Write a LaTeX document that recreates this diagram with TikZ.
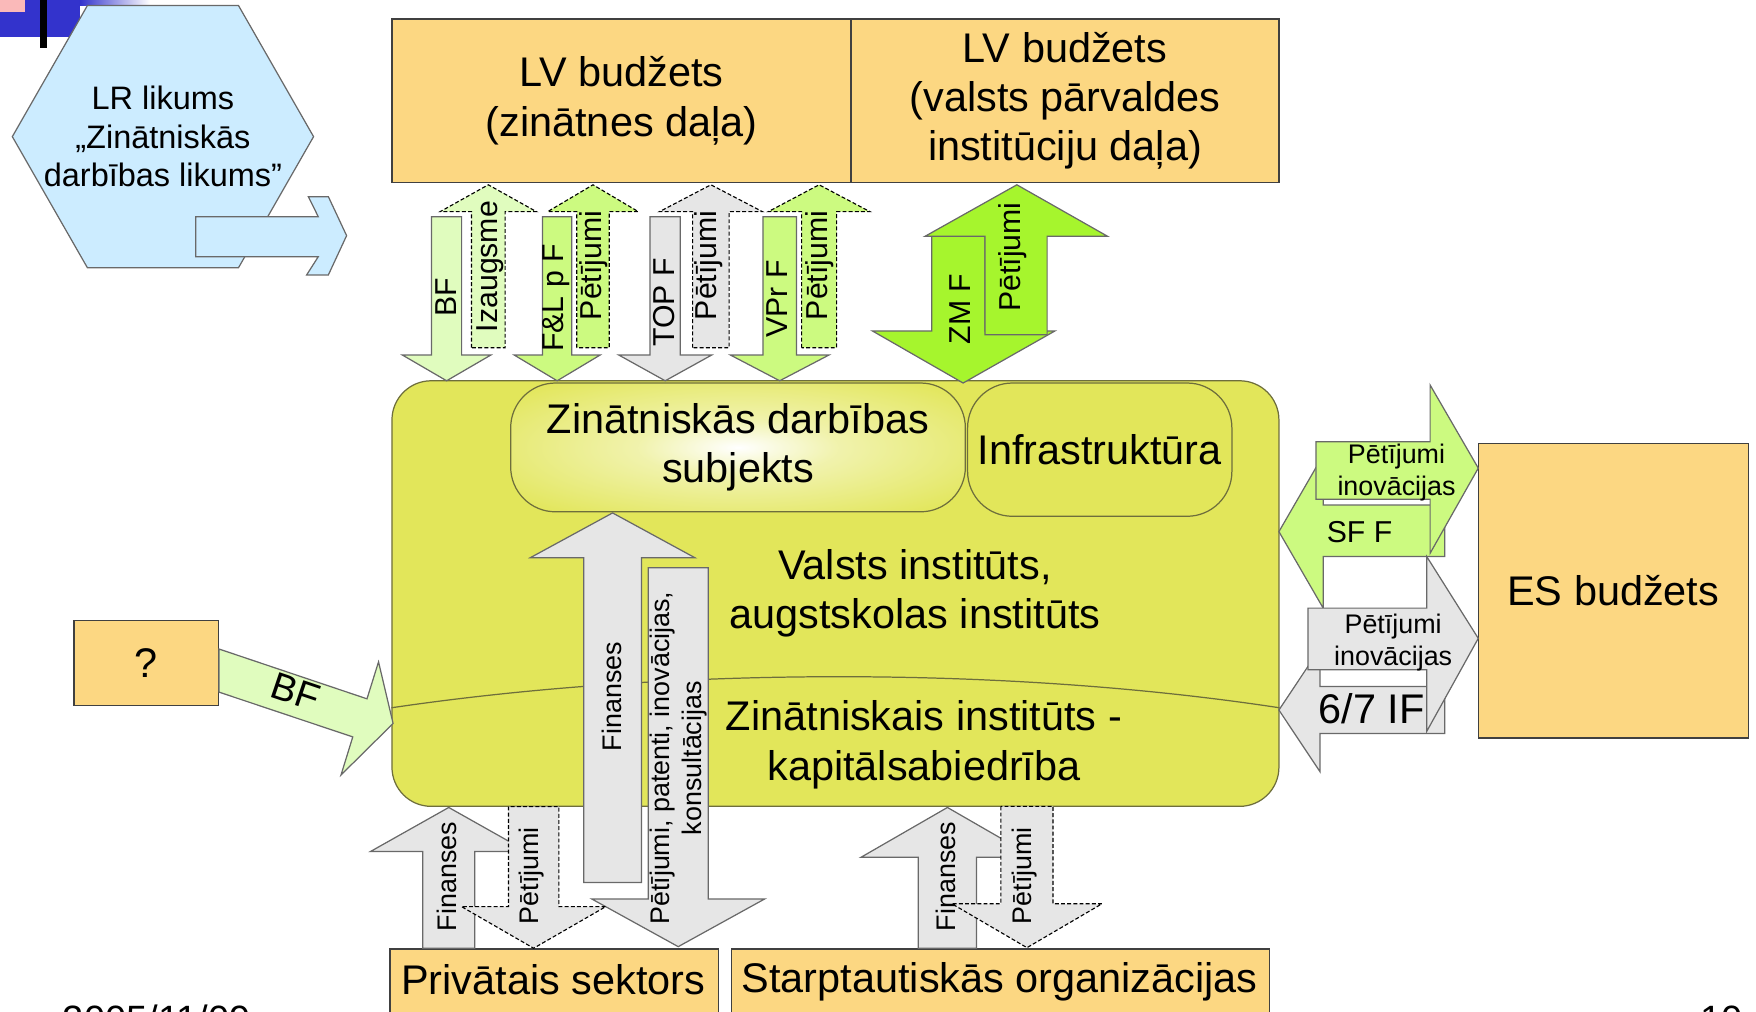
\documentclass[tikz,border=0pt]{standalone}
\usepackage{fontspec}
\setmainfont{Liberation Sans}
\definecolor{boxor}{RGB}{252,215,130}
\definecolor{mainy}{RGB}{226,230,90}
\definecolor{hexb}{RGB}{204,236,255}
\definecolor{lgreen}{RGB}{224,252,190}
\definecolor{mgreen}{RGB}{204,250,128}
\definecolor{bgreen}{RGB}{166,245,45}
\definecolor{lgray}{RGB}{230,230,230}
\definecolor{decoblue}{RGB}{51,51,204}
\definecolor{decopink}{RGB}{250,185,185}
\definecolor{edgegray}{RGB}{105,105,105}
\definecolor{olive}{RGB}{110,110,60}
\colorlet{glowmid}{white!50!mainy}
\pgfdeclareradialshading{glow}{\pgfpointorigin}{color(0bp)=(white); color(11bp)=(glowmid); color(33bp)=(mainy); color(50bp)=(mainy)}
\newcommand{\varr}[7]{\draw[#1] ({#2-#3},#7) -- ({#2-#3},#6) -- ({#2-#4},#6) -- (#2,#5) -- ({#2+#4},#6) -- ({#2+#3},#6) -- ({#2+#3},#7) -- cycle;}
\tikzset{
  bigtxt/.style={font=\fontsize{37}{44}\selectfont, align=center},
  hextxt/.style={font=\fontsize{29}{34.5}\selectfont, align=center},
  lbl/.style={font=\fontsize{27}{32}\selectfont, rotate=90, inner sep=0pt},
  slbl/.style={font=\fontsize{24}{28.5}\selectfont, align=center, inner sep=0pt},
  solidarrow/.style={draw=edgegray, line width=1.1, line join=miter},
  dasharrow/.style={draw=black, line width=1, dash pattern=on 3.5pt off 2pt},
  orbox/.style={draw=black!75, line width=1.2, fill=boxor, inner sep=0pt, bigtxt},
  roundbox/.style={draw=olive, line width=1.1, inner sep=0pt, bigtxt},
}
\begin{document}
\begin{tikzpicture}[x=1pt,y=-1pt]
\useasboundingbox (0,0) rectangle (1568,903);
\clip (0,0) rectangle (1568,903);
% slide decoration
\fill[decoblue] (0,0) rectangle (71,33);
\shade[left color=decoblue, right color=white] (71,0) rectangle (134,4.5);
\fill[decopink] (0,0) rectangle (22,10.4);
\fill[black] (35.7,0) rectangle (42,43);
% law hexagon
\draw[fill=hexb, draw=edgegray, line width=1.1] (78,5) -- (213,5) -- (280,122) -- (213,239) -- (78,239) -- (11,122) -- cycle;
\node[hextxt] (law) at (145.5,122) {LR likums\\„Zinātniskās\\darbības likums”};
\draw[solidarrow, fill=hexb] (174.7,193.5) -- (284.2,193.5) -- (275.3,175.6) -- (293.2,175.6) -- (309.5,210.4) -- (293.2,245.5) -- (273.8,245.5) -- (284.2,229.2) -- (174.7,229.2) -- cycle;
% top budget boxes
\node[orbox, minimum width=410pt, minimum height=146pt] (lvz) at (555,90) {LV budžets\\(zinātnes daļa)};
\node[orbox, minimum width=382pt, minimum height=146pt] (lvv) at (951,90) {LV budžets\\(valsts pārvaldes\\institūciju daļa)};
% main institute box
\node[roundbox, fill=mainy, rounded corners=35pt, minimum width=792pt, minimum height=380pt] (inst) at (746,530) {};
\node[roundbox, shading=glow, rounded corners=40pt, minimum width=406pt, minimum height=115pt] (subj) at (659,399.5) {Zinātniskās darbības\\subjekts};
\node[roundbox, fill=mainy, rounded corners=40pt, minimum width=236pt, minimum height=119pt] (infra) at (982,401.5) {Infrastruktūra};
\draw[olive, line width=1.1] (inst.west |- 0,632) .. controls (600,595) and (900,595) .. (inst.east |- 0,632);
\node[bigtxt] (valsts) at (817,530) {Valsts institūts,\\augstskolas institūts};
\node[bigtxt] (kapit) at (825,665) {Zinātniskais institūts -\\kapitālsabiedrība};
% top arrows
\varr{solidarrow, fill=lgreen}{398.8}{13.4}{39.5}{340}{317}{193.5}
\varr{dasharrow, fill=lgreen}{436}{15}{43}{165}{189}{310.5}
\varr{solidarrow, fill=mgreen}{497.5}{13}{38.4}{340}{317}{193.5}
\varr{dasharrow, fill=mgreen}{529.5}{14.5}{40.5}{165}{189}{310.5}
\varr{solidarrow, fill=lgray}{594}{13.5}{41.5}{340}{317}{193.5}
\varr{dasharrow, fill=lgray}{634.8}{16.3}{46}{165}{189}{310.5}
\varr{solidarrow, fill=mgreen}{696.2}{15}{44}{340}{317}{193.5}
\varr{dasharrow, fill=mgreen}{731.4}{15.6}{45.4}{165}{189}{310.5}
\node[lbl] (tBF) at (398,265.5) {BF};
\node[lbl] (tIz) at (437.5,238) {Izaugsme};
\node[lbl] (tFL) at (497,266) {F\&L p F};
\node[lbl] (tP1) at (530,237) {Pētījumi};
\node[lbl] (tTOP) at (593,270) {TOP F};
\node[lbl] (tP2) at (633,237) {Pētījumi};
\node[lbl] (tVPr) at (694,267) {VPr F};
\node[lbl] (tP3) at (732,237) {Pētījumi};
% ZM double arrow
\draw[solidarrow, fill=bgreen] (832,211) -- (879.5,211) -- (879.5,295.5) -- (942,295.5) -- (860,342) -- (779,295.5) -- (832,295.5) -- cycle;
\draw[solidarrow, fill=bgreen] (879.5,299) -- (879.5,211) -- (826,211) -- (908,165) -- (989,211) -- (935,211) -- (935,299) -- cycle;
\node[lbl] (tZM) at (857,276) {ZM F};
\node[lbl] (tP4) at (904.6,229.6) {Pētījumi};
% unknown source
\node[orbox, minimum width=129pt, minimum height=76pt] (q) at (130.5,592) {?};
\draw[solidarrow, fill=lgreen] (195.5,579.5) -- (327.7,624) -- (338,591) -- (351,646) -- (304.5,692) -- (315,658) -- (195.5,618) -- cycle;
\node[font=\fontsize{34}{40}\selectfont, rotate=-18.6, inner sep=0pt] (tBF2) at (264,618) {BF};
% inner arrows
\varr{solidarrow, fill=lgray}{547}{25.8}{73.5}{458}{498}{788}
\varr{solidarrow, fill=lgray}{605.6}{26.8}{77.2}{845.3}{802.7}{507}
\node[slbl, rotate=90] (tFin) at (546.5,622) {Finanses};
\node[slbl, rotate=90] (tPpik) at (605.6,677) {Pētījumi, patenti, inovācijas,\\konsultācijas};
% bottom boxes
\node[orbox, minimum width=293.2pt, minimum height=80pt, anchor=north west] (priv) at (347.6,846.7) {};
\node[bigtxt] (tpriv) at (494,875) {Privātais sektors};
\node[orbox, minimum width=480.6pt, minimum height=80pt, anchor=north west] (starp) at (652.4,846.7) {};
\node[bigtxt] (tstarp) at (892.7,877) {Starptautiskās organizācijas};
% bottom arrows
\varr{solidarrow, fill=lgray}{400.7}{23.3}{70}{721}{760.4}{846.7}
\varr{dasharrow, fill=lgray}{476.5}{22.5}{64.5}{846.7}{809.5}{720.2}
\varr{solidarrow, fill=lgray}{846}{26}{77.2}{721}{765.5}{846.7}
\varr{dasharrow, fill=lgray}{917}{23.3}{67}{846.2}{807}{720}
\node[slbl, rotate=90] (tFin2) at (398.8,782.8) {Finanses};
\node[slbl, rotate=90] (tPet5) at (474.7,782) {Pētījumi};
\node[slbl, rotate=90] (tFin3) at (844.6,782.7) {Finanses};
\node[slbl, rotate=90] (tPet6) at (915,782) {Pētījumi};
% EU side
\node[orbox, minimum width=241pt, minimum height=263pt] (es) at (1440.5,527.5) {ES budžets};
\draw[solidarrow, fill=mgreen] (1142,474.7) -- (1181.5,406.4) -- (1181.5,451) -- (1290,451) -- (1290,497) -- (1181.5,497) -- (1181.5,543) -- cycle;
\draw[solidarrow, fill=mgreen] (1175,394.4) -- (1277,394.4) -- (1277,343.8) -- (1320,418) -- (1277,494) -- (1277,445.8) -- (1175,445.8) -- cycle;
\draw[solidarrow, fill=lgray] (1142,634) -- (1178.6,579) -- (1178.6,613) -- (1290,613) -- (1290,655) -- (1178.6,655) -- (1178.6,689) -- cycle;
\draw[solidarrow, fill=lgray] (1168,543) -- (1274,543) -- (1274,497) -- (1320,570) -- (1274,653) -- (1274,598) -- (1168,598) -- cycle;
\node[font=\fontsize{27}{32}\selectfont, inner sep=0pt] (tSF) at (1214,474.7) {SF F};
\node[slbl] (tPi1) at (1247,422) {Pētījumi\\inovācijas};
\node[bigtxt, inner sep=0pt] (t67) at (1224.7,632.4) {6/7 IF};
\node[slbl] (tPi2) at (1244,574) {Pētījumi\\inovācijas};
% footer (cut off at the slide edge, as in the source)
\node[anchor=base west, font=\fontsize{34}{40}\selectfont, inner sep=0pt] (date) at (56,922) {2005/11/09};
\node[anchor=base west, font=\fontsize{34}{40}\selectfont, inner sep=0pt] (pnum) at (1518,922) {10};
\end{tikzpicture}
\end{document}
